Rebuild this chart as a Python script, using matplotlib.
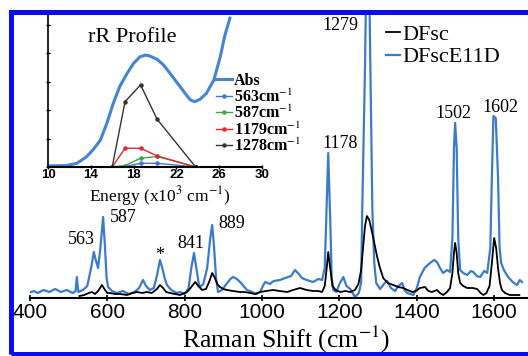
import matplotlib
matplotlib.use('Agg')
from matplotlib import pyplot as plt
from matplotlib.patches import Rectangle

plt.rcParams['font.family'] = ['Liberation Serif', 'DejaVu Serif']
plt.rcParams['mathtext.fontset'] = 'stix'

# --- main spectra (Raman shift in cm-1, intensity in arbitrary units) ---
blue_x = [395, 410, 420, 435, 450, 465, 480, 495, 510, 518, 521, 525, 537, 548, 558, 565, 570, 576,
          582, 589, 594, 598, 602, 612, 625, 640, 655, 670, 682, 692, 700, 710, 720, 728, 736, 742,
          748, 754, 765, 780, 788, 800, 810, 817, 824, 830, 836, 840, 848, 858, 866, 871, 876, 881,
          886, 896, 908, 918, 925, 935, 943, 952, 961, 974, 985, 995, 1002, 1008, 1020, 1030, 1046,
          1060, 1075, 1085, 1095, 1103, 1115, 1132, 1145, 1155, 1162, 1166, 1171, 1176, 1180, 1184,
          1192, 1200, 1210, 1218, 1228, 1240, 1250, 1256, 1259, 1266, 1270, 1276, 1280, 1285, 1290,
          1295, 1305, 1315, 1323, 1333, 1344, 1352, 1362, 1368, 1375, 1391, 1400, 1408, 1420, 1434,
          1445, 1452, 1460, 1468, 1478, 1486, 1492, 1496, 1499, 1503, 1507, 1512, 1520, 1530, 1540,
          1546, 1555, 1564, 1574, 1582, 1590, 1594, 1598, 1604, 1610, 1614, 1618, 1625, 1636, 1648,
          1659, 1666, 1672]
blue_y = [5, 7, 5, 8, 6, 9, 6, 8, 5, 7, 21, 6, 8, 12, 30, 46, 38, 30,
          50, 81, 50, 20, 11, 7, 5, 7, 4, 6, 10, 18, 12, 8, 10, 22, 38, 30,
          20, 13, 8, 5, 6, 4, 10, 30, 45, 30, 15, 11, 14, 30, 60, 73, 50, 20,
          6, 8, 14, 19, 21, 19, 16, 12, 8, 6, 4, 6, 12, 16, 14, 17, 18,
          20, 22, 28, 24, 20, 18, 16, 19, 18, 30, 80, 145, 80, 20, 8,
          6, 14, 21, 12, 9, 1, 5, 15, 90, 230, 340, 340, 230, 90, 35,
          15, 9, 14, 17, 10, 7, 12, 15, 8, 5, 3, 10, 21, 30, 35,
          38, 36, 30, 25, 28, 26, 60, 150, 175, 150, 60, 28, 25, 23, 27,
          26, 22, 21, 27, 25, 50, 120, 182, 180, 120, 50, 35, 28, 21, 16,
          13, 18, 16]

black_x = [528, 540, 552, 560, 568, 576, 586, 594, 600, 607, 620, 633, 651, 665, 677, 690, 702, 715,
           728, 736, 744, 752, 762, 775, 788, 800, 806, 815, 827, 835, 845, 855, 863, 871, 878, 884,
           891, 900, 909, 925, 943, 955, 969, 982, 995, 1010, 1029, 1045, 1065, 1080, 1098, 1115,
           1132, 1145, 1155, 1162, 1167, 1171, 1176, 1182, 1190, 1202, 1215, 1228, 1240, 1249, 1256,
           1261, 1266, 1271, 1277, 1283, 1290, 1297, 1304, 1313, 1325, 1339, 1352, 1365, 1376, 1388,
           1398, 1408, 1421, 1430, 1439, 1452, 1460, 1468, 1478, 1486, 1492, 1496, 1499, 1503, 1507,
           1512, 1520, 1530, 1545, 1556, 1565, 1572, 1580, 1588, 1594, 1600, 1605, 1610, 1615, 1620,
           1628, 1640, 1654, 1665]
black_y = [2, 3, 5, 6, 4, 7, 13, 8, 5, 5, 4, 4, 3, 5, 6, 5, 6, 5,
           9, 13, 10, 6, 5, 4, 3, 5, 6, 10, 16, 12, 8, 9, 16, 25, 20, 14,
           11, 9, 8, 7, 6, 6, 5, 4, 6, 7, 8, 7, 6, 8, 10, 8,
           7, 7, 6, 12, 30, 46, 30, 12, 8, 6, 7, 6, 8, 14, 28,
           50, 72, 82, 78, 68, 55, 42, 31, 20, 15, 13, 11, 10, 8, 6,
           7, 10, 11, 7, 6, 8, 5, 3, 6, 10, 25, 45, 55, 45, 25,
           15, 12, 10, 10, 9, 5, 3, 5, 12, 35, 60, 50, 30, 15, 8,
           5, 3, 3, 3]

peak_labels = ['563', '587', '*', '841', '889', '1178', '1279', '1502', '1602']
peak_label_x = [534, 640, 734, 816, 922, 1202, 1202, 1494, 1615]
peak_label_y = [58, 80, 42, 55, 75, 155, 273, 185, 191]

# --- inset: resonance Raman profile ---
abs_e = [10.2, 11.7, 12.7, 13.6, 14.2, 14.9, 15.5, 16.1, 16.7, 17.4, 18.0, 18.6, 19.1, 19.5, 20.2,
         20.8, 21.4, 22.0, 22.7, 23.3, 23.7, 24.2, 24.8, 25.5, 26.1, 26.5, 27.0]
abs_y = [0.04, 0.05, 0.13, 0.36, 0.60, 0.95, 1.54, 2.24, 2.83, 3.30, 3.65, 3.88, 3.94, 3.91, 3.79,
         3.59, 3.30, 3.00, 2.65, 2.36, 2.30, 2.38, 2.59, 3.06, 3.88, 4.59, 5.24]
exc_e = [16.0, 17.2, 18.65, 20.2, 23.8]
prof_563 = [0, 0.02, 0.13, 0.13, 0]
prof_587 = [0, 0.05, 0.31, 0.37, 0]
prof_1179 = [0, 0.66, 0.66, 0.39, 0]
prof_1278 = [0, 2.30, 2.89, 1.68, 0]

W, H = 528, 356


def box(x0, y0, x1, y1):
    # pixel box measured from the top-left corner -> figure fraction
    return [x0 / W, 1 - y1 / H, (x1 - x0) / W, (y1 - y0) / H]


fig = plt.figure(figsize=(W / 100, H / 100), dpi=100)

ax = fig.add_axes(box(30, 13, 529, 298))
lb, = ax.plot(blue_x, blue_y, color='#3b7bcb', lw=1.6)
lk, = ax.plot(black_x, black_y, color='black', lw=1.3)
ax.set_xlim(400, 1690)
ax.set_ylim(0, 285)
for s in ['top', 'right', 'left']:
    ax.spines[s].set_visible(False)
ax.spines['bottom'].set_linewidth(1.5)
ax.set_yticks([])
ax.set_xticks(range(400, 1700, 200))
ax.tick_params(axis='x', direction='inout', length=5, width=1.2, pad=1,
               labelsize=15, labelfontfamily='Liberation Sans')
ax.patch.set_alpha(0)
for lab, lx, ly in zip(peak_labels, peak_label_x, peak_label_y):
    ax.text(lx, ly, lab, ha='center', va='center', fontsize=13)

fig.text(286 / W, 1 - 348 / H, 'Raman Shift (cm$^{-1}$)', ha='center', va='baseline', fontsize=18.5)

fig.legend([lk, lb], ['DFsc', 'DFscE11D'], loc='upper left',
           bbox_to_anchor=(386 / W, 1 - 24 / H), frameon=False, fontsize=16,
           handlelength=0.65, handletextpad=0.1, labelspacing=0.1, borderpad=0,
           borderaxespad=0)

# inset
axi = fig.add_axes(box(48, 15, 262, 167))
axi.patch.set_alpha(0)
la, = axi.plot(abs_e, abs_y, color='#4584d2', lw=2.2)
l1, = axi.plot(exc_e, prof_563, color='#3b7bcb', lw=1, marker='o', ms=2.2)
l2, = axi.plot(exc_e, prof_587, color='#3fa845', lw=1, marker='o', ms=2.2)
l3, = axi.plot(exc_e, prof_1179, color='#e3262e', lw=1, marker='o', ms=2.2)
l4, = axi.plot(exc_e, prof_1278, color='#333333', lw=1, marker='o', ms=2.2)
axi.set_xlim(10, 30)
axi.set_ylim(0, 5.35)
axi.spines['top'].set_visible(False)
axi.spines['right'].set_visible(False)
axi.spines['left'].set_linewidth(1.2)
axi.spines['bottom'].set_linewidth(1.5)
axi.set_xticks(range(10, 31, 4))
axi.set_yticks(range(0, 6))
axi.set_yticklabels([])
axi.tick_params(direction='inout', length=3, width=1, pad=0,
                labelsize=9.5, labelfontfamily='Liberation Sans')
for t in axi.get_xticklabels():
    t.set_fontweight('bold')
axi.text(132 / W, 1 - 37 / H, 'rR Profile', transform=fig.transFigure,
         ha='center', va='center', fontsize=16)
fig.text(160 / W, 1 - 201 / H, 'Energy (x10$^3$ cm$^{-1}$)', ha='center', va='baseline', fontsize=12.5)

fig.legend([la, l1, l2, l3, l4],
           ['Abs', '563cm$^{-1}$', '587cm$^{-1}$', '1179cm$^{-1}$', '1278cm$^{-1}$'],
           loc='upper left', bbox_to_anchor=(216 / W, 1 - 73 / H), frameon=False,
           prop={'size': 11.5, 'weight': 'bold'}, handlelength=1.0, handletextpad=0.1,
           labelspacing=-0.05, borderpad=0, borderaxespad=0)

# blue frame around the figure
fig.add_artist(Rectangle((10.5 / W, 1 - 354 / H), 1.2, (354 - 12) / H,
                         transform=fig.transFigure, fill=False, edgecolor='#0a0af5',
                         lw=3.6, zorder=10, clip_on=False))

fig.savefig('out.png', dpi=100)
